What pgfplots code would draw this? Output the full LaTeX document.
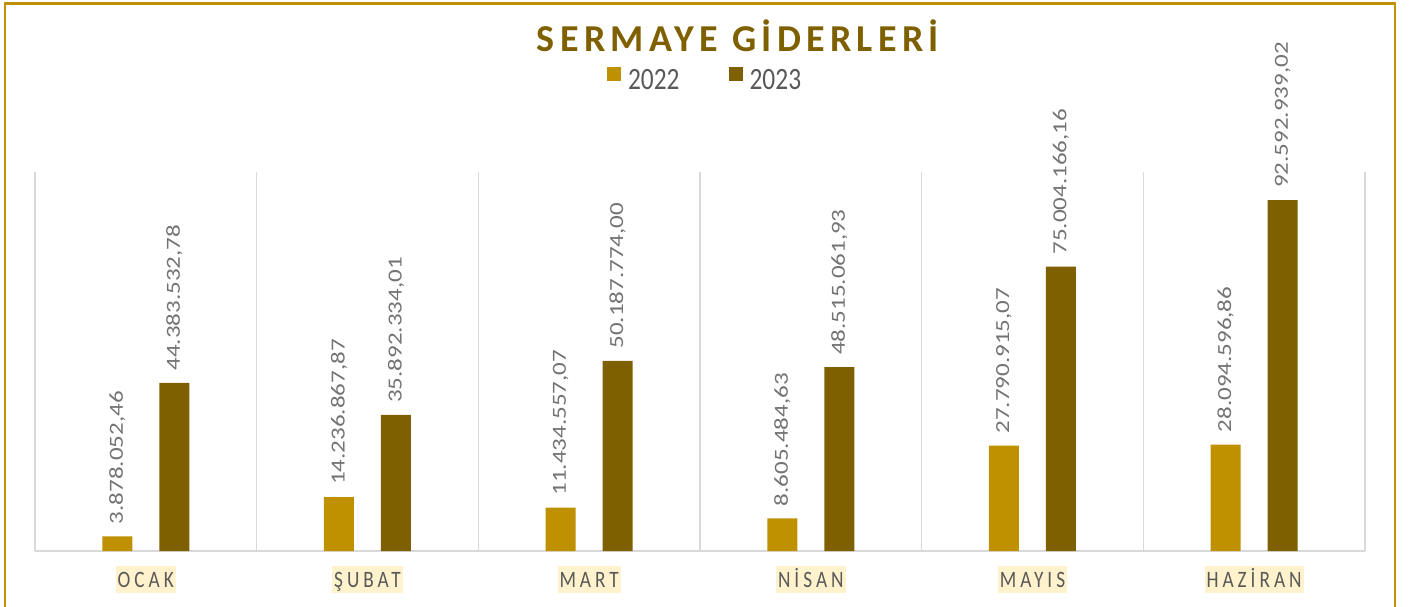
\documentclass[border=0pt]{standalone}
\usepackage{fontspec}
\setmainfont{Carlito}
\usepackage{pgfplots}
\usepackage{pgfplotstable}
\pgfplotsset{compat=1.18}
\newfontfamily\titlefam[LetterSpace=14]{Carlito}
\newfontfamily\legfam[FakeStretch=0.82]{Carlito}
\newfontfamily\xfam[FakeStretch=0.82,LetterSpace=17]{Carlito}
\newfontfamily\valfam[FakeStretch=1.25]{Carlito}
\newcommand\titlefont{\titlefam\bfseries\fontsize{38bp}{44bp}\selectfont}
\newcommand\legfont{\legfam\fontsize{31bp}{36bp}\selectfont}
\newcommand\xfont{\xfam\fontsize{23.5bp}{28bp}\selectfont}
\newcommand\valfont{\valfam\fontsize{20bp}{24bp}\selectfont}
\definecolor{c22}{HTML}{BF9000}
\definecolor{c23}{HTML}{7F6000}
\definecolor{gridgray}{HTML}{D9D9D9}
\definecolor{textgray}{HTML}{595959}
\definecolor{valgray}{HTML}{737373}
\definecolor{cream}{HTML}{FFF2CC}

\pgfplotstableread{
x y lab
0 3878052.46 3.878.052,46
1 14236867.87 14.236.867,87
2 11434557.07 11.434.557,07
3 8605484.63 8.605.484,63
4 27790915.07 27.790.915,07
5 28094596.86 28.094.596,86
}\dataA
\pgfplotstableread{
x y lab
0 44383532.78 44.383.532,78
1 35892334.01 35.892.334,01
2 50187774.00 50.187.774,00
3 48515061.93 48.515.061,93
4 75004166.16 75.004.166,16
5 92592939.02 92.592.939,02
}\dataB

\begin{document}
\begin{tikzpicture}
\useasboundingbox (0,0) rectangle (1414bp,607bp);
\begin{axis}[
  at={(35bp,56bp)}, anchor=south west,
  scale only axis, width=1330bp, height=379bp,
  xmin=-0.5, xmax=5.5, ymin=0, ymax=100000000,
  ybar=27bp, bar width=30bp,
  axis x line=bottom, axis y line=none,
  x axis line style={-, draw=gridgray, line width=1.5bp},
  xtick={0,...,5},
  xticklabels={OCAK, ŞUBAT, MART, NİSAN, MAYIS, HAZİRAN},
  major tick length=0pt, minor tick length=0pt,
  minor xtick={-0.5,0.5,...,5.5},
  xminorgrids=true,
  minor grid style={draw=gridgray, line width=1.3bp},
  ytick=\empty,
  xticklabel style={font=\xfont, text=textgray, fill=cream, anchor=center,
    inner xsep=2bp, inner ysep=0pt, text height=15bp, text depth=0bp,
    minimum height=27bp, yshift=-28.5bp},
  point meta=explicit symbolic,
  nodes near coords,
  nodes near coords style={rotate=90, anchor=west, font=\valfont, text=valgray,
    inner xsep=12bp, inner ysep=0pt},
  legend style={at={(axis description cs:0.43,1.245)}, anchor=west, draw=none, fill=none,
    inner sep=0pt, font=\legfont, text=textgray, legend columns=2,
    nodes={inner sep=0pt},
    /tikz/every odd column/.append style={column sep=7bp},
    /tikz/every even column/.append style={column sep=49bp}},
  legend image code/.code={\fill[#1, draw=none] (0bp,-1bp) rectangle (14bp,13bp);},
  clip=false,
]
\addplot[fill=c22, draw=none] table[x=x, y=y, meta=lab] {\dataA};
\addplot[fill=c23, draw=none] table[x=x, y=y, meta=lab] {\dataB};
\legend{2022, 2023}
\end{axis}
\node[font=\titlefont, text=c23, anchor=base, inner sep=0pt] at (738bp,555bp) {SERMAYE GİDERLERİ};
\draw[c22, line width=2.5bp] (5bp,-20bp) -- (5bp,603.5bp) -- (1395bp,603.5bp) -- (1395bp,-20bp);
\end{tikzpicture}
\end{document}
